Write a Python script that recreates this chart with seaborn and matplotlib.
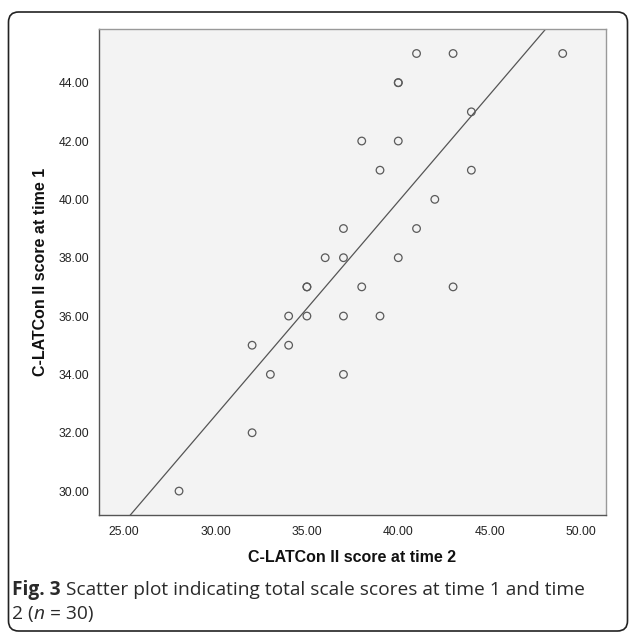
import numpy as np
import pandas as pd
import seaborn as sns
import matplotlib.pyplot as plt
from matplotlib.patches import FancyBboxPatch

# C-LATCon II total scores, one entry per participant (n = 30)
time2 = [28, 32, 32, 33, 34, 34, 35, 35, 35, 36, 37, 37, 37, 37, 38,
         38, 39, 39, 40, 40, 40, 40, 41, 41, 42, 43, 43, 44, 44, 49]
time1 = [30, 32, 35, 34, 36, 35, 37, 37, 36, 38, 39, 38, 36, 34, 42,
         37, 41, 36, 44, 44, 42, 38, 45, 39, 40, 45, 37, 43, 41, 45]
x_ticks = [25, 30, 35, 40, 45, 50]
y_ticks = [30, 32, 34, 36, 38, 40, 42, 44]

W, H = 629, 633
df = pd.DataFrame({"time2": time2, "time1": time1})

sns.set_style("white")
plt.rcParams["font.family"] = ["Liberation Sans", "DejaVu Sans"]

fig = plt.figure(figsize=(W / 100, H / 100), dpi=100)


def px_box(left, top, right, bottom):
    return [left / W, 1 - bottom / H, (right - left) / W, (bottom - top) / H]


ax = fig.add_axes(px_box(99, 29, 606, 515))
ax.set_facecolor("#f3f3f3")
ax.set_xlim(23.62, 51.37)
ax.set_ylim(29.18, 45.84)

sns.regplot(data=df, x="time2", y="time1", ax=ax, scatter=False, ci=None,
            truncate=False, color="#555555", line_kws={"linewidth": 0.9})
sns.scatterplot(data=df, x="time2", y="time1", ax=ax, s=30, marker="o",
                facecolors="none", edgecolor="#5a5a5a", linewidth=0.9,
                zorder=3)
ax.set_xlim(23.62, 51.37)
ax.set_ylim(29.18, 45.84)

ax.set_xticks(x_ticks)
ax.set_yticks(y_ticks)
ax.set_xticklabels([f"{v:.2f}" for v in x_ticks])
ax.set_yticklabels([f"{v:.2f}" for v in y_ticks])
ax.tick_params(axis="both", direction="out", length=5, width=1,
               color="#555555", labelsize=8.7, labelcolor="#222222", pad=2)
ax.tick_params(axis="x", pad=3)
for side, sp in ax.spines.items():
    sp.set_visible(True)
    sp.set_linewidth(1.0)
    sp.set_color("#555555" if side in ("left", "bottom") else "#999999")

ax.set_xlabel("")
ax.set_ylabel("")
fig.text(352 / W, 1 - 557 / H, "C-LATCon II score at time 2", ha="center",
         va="center", fontsize=11.5, fontweight="bold", color="#111111")
fig.text(41 / W, 1 - 272 / H, "C-LATCon II score at time 1", ha="center",
         va="center", rotation=90, fontsize=11.5, fontweight="bold",
         color="#111111")

# outer rounded frame
frame = FancyBboxPatch((8.5 / W, 1 - 631 / H), 619 / W, 619 / H,
                       boxstyle="round,pad=0,rounding_size=0.016",
                       transform=fig.transFigure, fill=False,
                       edgecolor="#222222", linewidth=1.2, clip_on=False)
fig.patches.append(frame)

# caption
cap_font = ["Open Sans", "DejaVu Sans"]
cap_size = 13.8
fig.canvas.draw()
renderer = fig.canvas.get_renderer()


def text_run(x_px, y_px, pieces):
    for txt, kw in pieces:
        t = fig.text(x_px / W, 1 - y_px / H, txt, ha="left", va="baseline",
                     fontsize=cap_size, family=cap_font, color="#2a2a2a", **kw)
        bb = t.get_window_extent(renderer=renderer)
        x_px += bb.width


text_run(12, 595, [("Fig. 3", {"fontweight": "bold"}),
                   (" Scatter plot indicating total scale scores at time 1 and time", {})])
text_run(12, 619, [("2 (", {}), ("n", {"style": "italic"}), (" = 30)", {})])

fig.savefig("out.png", dpi=100)
